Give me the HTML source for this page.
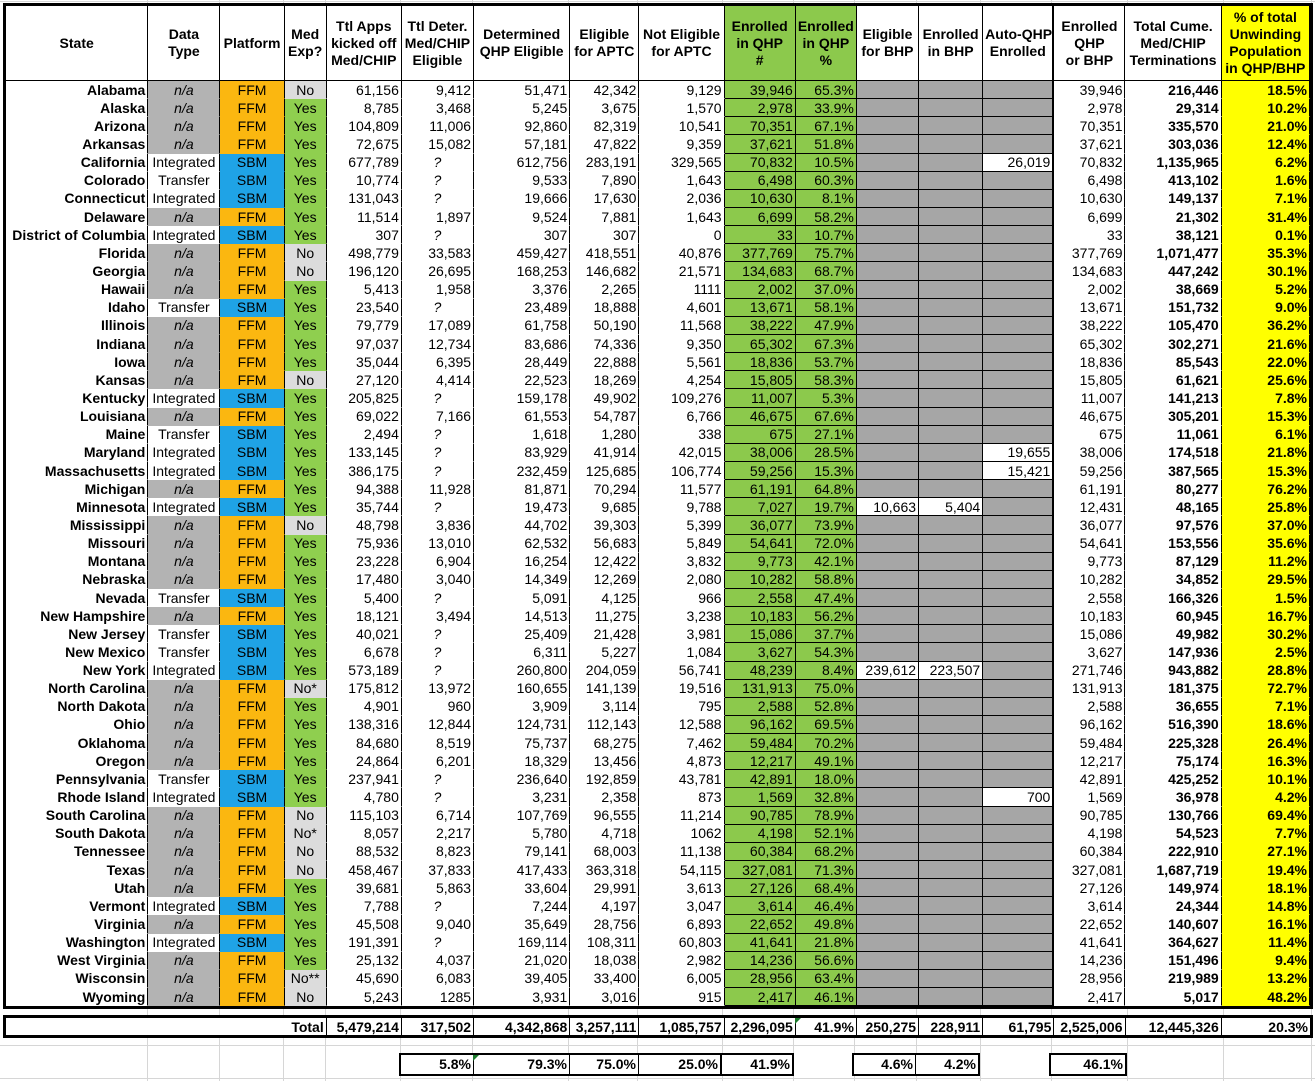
<!DOCTYPE html>
<html><head><meta charset="utf-8"><style>
body{margin:0;width:1315px;height:1081px;background:#fff;position:relative;overflow:hidden;font-family:"Liberation Sans",Arial,sans-serif;font-size:14px;color:#000}
.vl{position:absolute;top:0;height:1081px;width:1px;background:#d6d6d6}
.hl{position:absolute;left:0;width:1315px;height:1px;background:#d6d6d6}
table{border-spacing:0;table-layout:fixed;position:absolute}
#m{left:3px;top:3px;width:1310px;border:3px solid #000;background:#fff}
#m td,#m th{padding:0 2px;border-right:1px solid #000;border-bottom:1px solid transparent;white-space:nowrap;overflow:hidden;text-align:right;line-height:16px}
#m th{font-weight:bold;text-align:center;line-height:17px;border-bottom:1px solid #000;height:74px}
#m tr.r{height:18.15px}
#m td.s{font-weight:bold}
#m td.na{background:#b3b3b3;font-style:italic;text-align:center}
#m td.ty{text-align:center}
#m td.f{background:#fbb710;text-align:center}
#m td.p{background:#1fa3e6;text-align:center}
#m td.y{background:#8fcf4f;text-align:center}
#m td.n{background:#dcdcdc;text-align:center}
#m td.q{text-align:center;font-style:italic}
#m td.g{background:#8cc94c;border-bottom:1px solid #000}
#m td.x{background:#a6a6a6;border-bottom:1px solid #000}
#m td.w{background:#fff;border-bottom:1px solid #000}
#m td.b{font-weight:bold}
#m td.yl{background:#ffff00;font-weight:bold}
#m .k{border-right:2px solid #000}
#m th.gh{background:#8cc94c}
#m th.yh{background:#ffff00}
#t{left:3px;top:1015px;width:1310px;border-top:3px solid #000;border-bottom:3px solid #000;border-left:3px solid #000;border-right:3px solid #000;background:#fff}
#t td{padding:0 2px;height:17px;line-height:16px;font-weight:bold;text-align:right;border-right:1px solid #000;white-space:nowrap}
.bx{position:absolute;top:1053px;height:19px;border:2px solid #000;background:#fff;display:flex;font-weight:bold}
.bx div{text-align:right;padding-right:2px;line-height:19px;box-sizing:border-box;border-right:1px solid #000}
.bx div:last-child{border-right:none}
.tri{position:absolute;width:0;height:0;border-top:6px solid #1c7a2c;border-right:6px solid transparent}
</style></head><body>
<div class="vl" style="left:147px"></div><div class="vl" style="left:219px"></div><div class="vl" style="left:283px"></div><div class="vl" style="left:325px"></div><div class="vl" style="left:400px"></div><div class="vl" style="left:472px"></div><div class="vl" style="left:568px"></div><div class="vl" style="left:637px"></div><div class="vl" style="left:722px"></div><div class="vl" style="left:793px"></div><div class="vl" style="left:854px"></div><div class="vl" style="left:916px"></div><div class="vl" style="left:980px"></div><div class="vl" style="left:1051px"></div><div class="vl" style="left:1127px"></div><div class="vl" style="left:1223px"></div><div class="vl" style="left:1311px"></div>
<div class="hl" style="top:1045px"></div><div class="hl" style="top:1078px"></div><div class="hl" style="top:1px"></div>
<table id="m"><colgroup><col style="width:142px"><col style="width:72px"><col style="width:64px"><col style="width:42px"><col style="width:75px"><col style="width:72px"><col style="width:96px"><col style="width:69px"><col style="width:85px"><col style="width:71px"><col style="width:61px"><col style="width:62px"><col style="width:64px"><col style="width:71px"><col style="width:71px"><col style="width:96px"><col style="width:88px"></colgroup>
<tr><th>State</th><th>Data<br>Type</th><th>Platform</th><th>Med<br>Exp?</th><th>Ttl Apps<br>kicked off<br>Med/CHIP</th><th>Ttl Deter.<br>Med/CHIP<br>Eligible</th><th>Determined<br>QHP Eligible</th><th>Eligible<br>for APTC</th><th>Not Eligible<br>for APTC</th><th class="gh">Enrolled<br>in QHP<br>#</th><th class="gh">Enrolled<br>in QHP<br>%</th><th>Eligible<br>for BHP</th><th>Enrolled<br>in BHP</th><th class="k">Auto-QHP<br>Enrolled</th><th>Enrolled<br>QHP<br>or BHP</th><th>Total Cume.<br>Med/CHIP<br>Terminations</th><th class="yh">% of total<br>Unwinding<br>Population<br>in QHP/BHP</th></tr>
<tr class="r"><td class="s">Alabama</td><td class="na">n/a</td><td class="f">FFM</td><td class="n">No</td><td>61,156</td><td>9,412</td><td>51,471</td><td>42,342</td><td>9,129</td><td class="g">39,946</td><td class="g">65.3%</td><td class="x"></td><td class="x"></td><td class="x k"></td><td>39,946</td><td class="b">216,446</td><td class="yl">18.5%</td></tr>
<tr class="r"><td class="s">Alaska</td><td class="na">n/a</td><td class="f">FFM</td><td class="y">Yes</td><td>8,785</td><td>3,468</td><td>5,245</td><td>3,675</td><td>1,570</td><td class="g">2,978</td><td class="g">33.9%</td><td class="x"></td><td class="x"></td><td class="x k"></td><td>2,978</td><td class="b">29,314</td><td class="yl">10.2%</td></tr>
<tr class="r"><td class="s">Arizona</td><td class="na">n/a</td><td class="f">FFM</td><td class="y">Yes</td><td>104,809</td><td>11,006</td><td>92,860</td><td>82,319</td><td>10,541</td><td class="g">70,351</td><td class="g">67.1%</td><td class="x"></td><td class="x"></td><td class="x k"></td><td>70,351</td><td class="b">335,570</td><td class="yl">21.0%</td></tr>
<tr class="r"><td class="s">Arkansas</td><td class="na">n/a</td><td class="f">FFM</td><td class="y">Yes</td><td>72,675</td><td>15,082</td><td>57,181</td><td>47,822</td><td>9,359</td><td class="g">37,621</td><td class="g">51.8%</td><td class="x"></td><td class="x"></td><td class="x k"></td><td>37,621</td><td class="b">303,036</td><td class="yl">12.4%</td></tr>
<tr class="r"><td class="s">California</td><td class="ty">Integrated</td><td class="p">SBM</td><td class="y">Yes</td><td>677,789</td><td class="q">?</td><td>612,756</td><td>283,191</td><td>329,565</td><td class="g">70,832</td><td class="g">10.5%</td><td class="x"></td><td class="x"></td><td class="w k">26,019</td><td>70,832</td><td class="b">1,135,965</td><td class="yl">6.2%</td></tr>
<tr class="r"><td class="s">Colorado</td><td class="ty">Transfer</td><td class="p">SBM</td><td class="y">Yes</td><td>10,774</td><td class="q">?</td><td>9,533</td><td>7,890</td><td>1,643</td><td class="g">6,498</td><td class="g">60.3%</td><td class="x"></td><td class="x"></td><td class="x k"></td><td>6,498</td><td class="b">413,102</td><td class="yl">1.6%</td></tr>
<tr class="r"><td class="s">Connecticut</td><td class="ty">Integrated</td><td class="p">SBM</td><td class="y">Yes</td><td>131,043</td><td class="q">?</td><td>19,666</td><td>17,630</td><td>2,036</td><td class="g">10,630</td><td class="g">8.1%</td><td class="x"></td><td class="x"></td><td class="x k"></td><td>10,630</td><td class="b">149,137</td><td class="yl">7.1%</td></tr>
<tr class="r"><td class="s">Delaware</td><td class="na">n/a</td><td class="f">FFM</td><td class="y">Yes</td><td>11,514</td><td>1,897</td><td>9,524</td><td>7,881</td><td>1,643</td><td class="g">6,699</td><td class="g">58.2%</td><td class="x"></td><td class="x"></td><td class="x k"></td><td>6,699</td><td class="b">21,302</td><td class="yl">31.4%</td></tr>
<tr class="r"><td class="s">District of Columbia</td><td class="ty">Integrated</td><td class="p">SBM</td><td class="y">Yes</td><td>307</td><td class="q">?</td><td>307</td><td>307</td><td>0</td><td class="g">33</td><td class="g">10.7%</td><td class="x"></td><td class="x"></td><td class="x k"></td><td>33</td><td class="b">38,121</td><td class="yl">0.1%</td></tr>
<tr class="r"><td class="s">Florida</td><td class="na">n/a</td><td class="f">FFM</td><td class="n">No</td><td>498,779</td><td>33,583</td><td>459,427</td><td>418,551</td><td>40,876</td><td class="g">377,769</td><td class="g">75.7%</td><td class="x"></td><td class="x"></td><td class="x k"></td><td>377,769</td><td class="b">1,071,477</td><td class="yl">35.3%</td></tr>
<tr class="r"><td class="s">Georgia</td><td class="na">n/a</td><td class="f">FFM</td><td class="n">No</td><td>196,120</td><td>26,695</td><td>168,253</td><td>146,682</td><td>21,571</td><td class="g">134,683</td><td class="g">68.7%</td><td class="x"></td><td class="x"></td><td class="x k"></td><td>134,683</td><td class="b">447,242</td><td class="yl">30.1%</td></tr>
<tr class="r"><td class="s">Hawaii</td><td class="na">n/a</td><td class="f">FFM</td><td class="y">Yes</td><td>5,413</td><td>1,958</td><td>3,376</td><td>2,265</td><td>1111</td><td class="g">2,002</td><td class="g">37.0%</td><td class="x"></td><td class="x"></td><td class="x k"></td><td>2,002</td><td class="b">38,669</td><td class="yl">5.2%</td></tr>
<tr class="r"><td class="s">Idaho</td><td class="ty">Transfer</td><td class="p">SBM</td><td class="y">Yes</td><td>23,540</td><td class="q">?</td><td>23,489</td><td>18,888</td><td>4,601</td><td class="g">13,671</td><td class="g">58.1%</td><td class="x"></td><td class="x"></td><td class="x k"></td><td>13,671</td><td class="b">151,732</td><td class="yl">9.0%</td></tr>
<tr class="r"><td class="s">Illinois</td><td class="na">n/a</td><td class="f">FFM</td><td class="y">Yes</td><td>79,779</td><td>17,089</td><td>61,758</td><td>50,190</td><td>11,568</td><td class="g">38,222</td><td class="g">47.9%</td><td class="x"></td><td class="x"></td><td class="x k"></td><td>38,222</td><td class="b">105,470</td><td class="yl">36.2%</td></tr>
<tr class="r"><td class="s">Indiana</td><td class="na">n/a</td><td class="f">FFM</td><td class="y">Yes</td><td>97,037</td><td>12,734</td><td>83,686</td><td>74,336</td><td>9,350</td><td class="g">65,302</td><td class="g">67.3%</td><td class="x"></td><td class="x"></td><td class="x k"></td><td>65,302</td><td class="b">302,271</td><td class="yl">21.6%</td></tr>
<tr class="r"><td class="s">Iowa</td><td class="na">n/a</td><td class="f">FFM</td><td class="y">Yes</td><td>35,044</td><td>6,395</td><td>28,449</td><td>22,888</td><td>5,561</td><td class="g">18,836</td><td class="g">53.7%</td><td class="x"></td><td class="x"></td><td class="x k"></td><td>18,836</td><td class="b">85,543</td><td class="yl">22.0%</td></tr>
<tr class="r"><td class="s">Kansas</td><td class="na">n/a</td><td class="f">FFM</td><td class="n">No</td><td>27,120</td><td>4,414</td><td>22,523</td><td>18,269</td><td>4,254</td><td class="g">15,805</td><td class="g">58.3%</td><td class="x"></td><td class="x"></td><td class="x k"></td><td>15,805</td><td class="b">61,621</td><td class="yl">25.6%</td></tr>
<tr class="r"><td class="s">Kentucky</td><td class="ty">Integrated</td><td class="p">SBM</td><td class="y">Yes</td><td>205,825</td><td class="q">?</td><td>159,178</td><td>49,902</td><td>109,276</td><td class="g">11,007</td><td class="g">5.3%</td><td class="x"></td><td class="x"></td><td class="x k"></td><td>11,007</td><td class="b">141,213</td><td class="yl">7.8%</td></tr>
<tr class="r"><td class="s">Louisiana</td><td class="na">n/a</td><td class="f">FFM</td><td class="y">Yes</td><td>69,022</td><td>7,166</td><td>61,553</td><td>54,787</td><td>6,766</td><td class="g">46,675</td><td class="g">67.6%</td><td class="x"></td><td class="x"></td><td class="x k"></td><td>46,675</td><td class="b">305,201</td><td class="yl">15.3%</td></tr>
<tr class="r"><td class="s">Maine</td><td class="ty">Transfer</td><td class="p">SBM</td><td class="y">Yes</td><td>2,494</td><td class="q">?</td><td>1,618</td><td>1,280</td><td>338</td><td class="g">675</td><td class="g">27.1%</td><td class="x"></td><td class="x"></td><td class="x k"></td><td>675</td><td class="b">11,061</td><td class="yl">6.1%</td></tr>
<tr class="r"><td class="s">Maryland</td><td class="ty">Integrated</td><td class="p">SBM</td><td class="y">Yes</td><td>133,145</td><td class="q">?</td><td>83,929</td><td>41,914</td><td>42,015</td><td class="g">38,006</td><td class="g">28.5%</td><td class="x"></td><td class="x"></td><td class="w k">19,655</td><td>38,006</td><td class="b">174,518</td><td class="yl">21.8%</td></tr>
<tr class="r"><td class="s">Massachusetts</td><td class="ty">Integrated</td><td class="p">SBM</td><td class="y">Yes</td><td>386,175</td><td class="q">?</td><td>232,459</td><td>125,685</td><td>106,774</td><td class="g">59,256</td><td class="g">15.3%</td><td class="x"></td><td class="x"></td><td class="w k">15,421</td><td>59,256</td><td class="b">387,565</td><td class="yl">15.3%</td></tr>
<tr class="r"><td class="s">Michigan</td><td class="na">n/a</td><td class="f">FFM</td><td class="y">Yes</td><td>94,388</td><td>11,928</td><td>81,871</td><td>70,294</td><td>11,577</td><td class="g">61,191</td><td class="g">64.8%</td><td class="x"></td><td class="x"></td><td class="x k"></td><td>61,191</td><td class="b">80,277</td><td class="yl">76.2%</td></tr>
<tr class="r"><td class="s">Minnesota</td><td class="ty">Integrated</td><td class="p">SBM</td><td class="y">Yes</td><td>35,744</td><td class="q">?</td><td>19,473</td><td>9,685</td><td>9,788</td><td class="g">7,027</td><td class="g">19.7%</td><td class="w">10,663</td><td class="w">5,404</td><td class="x k"></td><td>12,431</td><td class="b">48,165</td><td class="yl">25.8%</td></tr>
<tr class="r"><td class="s">Mississippi</td><td class="na">n/a</td><td class="f">FFM</td><td class="n">No</td><td>48,798</td><td>3,836</td><td>44,702</td><td>39,303</td><td>5,399</td><td class="g">36,077</td><td class="g">73.9%</td><td class="x"></td><td class="x"></td><td class="x k"></td><td>36,077</td><td class="b">97,576</td><td class="yl">37.0%</td></tr>
<tr class="r"><td class="s">Missouri</td><td class="na">n/a</td><td class="f">FFM</td><td class="y">Yes</td><td>75,936</td><td>13,010</td><td>62,532</td><td>56,683</td><td>5,849</td><td class="g">54,641</td><td class="g">72.0%</td><td class="x"></td><td class="x"></td><td class="x k"></td><td>54,641</td><td class="b">153,556</td><td class="yl">35.6%</td></tr>
<tr class="r"><td class="s">Montana</td><td class="na">n/a</td><td class="f">FFM</td><td class="y">Yes</td><td>23,228</td><td>6,904</td><td>16,254</td><td>12,422</td><td>3,832</td><td class="g">9,773</td><td class="g">42.1%</td><td class="x"></td><td class="x"></td><td class="x k"></td><td>9,773</td><td class="b">87,129</td><td class="yl">11.2%</td></tr>
<tr class="r"><td class="s">Nebraska</td><td class="na">n/a</td><td class="f">FFM</td><td class="y">Yes</td><td>17,480</td><td>3,040</td><td>14,349</td><td>12,269</td><td>2,080</td><td class="g">10,282</td><td class="g">58.8%</td><td class="x"></td><td class="x"></td><td class="x k"></td><td>10,282</td><td class="b">34,852</td><td class="yl">29.5%</td></tr>
<tr class="r"><td class="s">Nevada</td><td class="ty">Transfer</td><td class="p">SBM</td><td class="y">Yes</td><td>5,400</td><td class="q">?</td><td>5,091</td><td>4,125</td><td>966</td><td class="g">2,558</td><td class="g">47.4%</td><td class="x"></td><td class="x"></td><td class="x k"></td><td>2,558</td><td class="b">166,326</td><td class="yl">1.5%</td></tr>
<tr class="r"><td class="s">New Hampshire</td><td class="na">n/a</td><td class="f">FFM</td><td class="y">Yes</td><td>18,121</td><td>3,494</td><td>14,513</td><td>11,275</td><td>3,238</td><td class="g">10,183</td><td class="g">56.2%</td><td class="x"></td><td class="x"></td><td class="x k"></td><td>10,183</td><td class="b">60,945</td><td class="yl">16.7%</td></tr>
<tr class="r"><td class="s">New Jersey</td><td class="ty">Transfer</td><td class="p">SBM</td><td class="y">Yes</td><td>40,021</td><td class="q">?</td><td>25,409</td><td>21,428</td><td>3,981</td><td class="g">15,086</td><td class="g">37.7%</td><td class="x"></td><td class="x"></td><td class="x k"></td><td>15,086</td><td class="b">49,982</td><td class="yl">30.2%</td></tr>
<tr class="r"><td class="s">New Mexico</td><td class="ty">Transfer</td><td class="p">SBM</td><td class="y">Yes</td><td>6,678</td><td class="q">?</td><td>6,311</td><td>5,227</td><td>1,084</td><td class="g">3,627</td><td class="g">54.3%</td><td class="x"></td><td class="x"></td><td class="x k"></td><td>3,627</td><td class="b">147,936</td><td class="yl">2.5%</td></tr>
<tr class="r"><td class="s">New York</td><td class="ty">Integrated</td><td class="p">SBM</td><td class="y">Yes</td><td>573,189</td><td class="q">?</td><td>260,800</td><td>204,059</td><td>56,741</td><td class="g">48,239</td><td class="g">8.4%</td><td class="w">239,612</td><td class="w">223,507</td><td class="x k"></td><td>271,746</td><td class="b">943,882</td><td class="yl">28.8%</td></tr>
<tr class="r"><td class="s">North Carolina</td><td class="na">n/a</td><td class="f">FFM</td><td class="n">No*</td><td>175,812</td><td>13,972</td><td>160,655</td><td>141,139</td><td>19,516</td><td class="g">131,913</td><td class="g">75.0%</td><td class="x"></td><td class="x"></td><td class="x k"></td><td>131,913</td><td class="b">181,375</td><td class="yl">72.7%</td></tr>
<tr class="r"><td class="s">North Dakota</td><td class="na">n/a</td><td class="f">FFM</td><td class="y">Yes</td><td>4,901</td><td>960</td><td>3,909</td><td>3,114</td><td>795</td><td class="g">2,588</td><td class="g">52.8%</td><td class="x"></td><td class="x"></td><td class="x k"></td><td>2,588</td><td class="b">36,655</td><td class="yl">7.1%</td></tr>
<tr class="r"><td class="s">Ohio</td><td class="na">n/a</td><td class="f">FFM</td><td class="y">Yes</td><td>138,316</td><td>12,844</td><td>124,731</td><td>112,143</td><td>12,588</td><td class="g">96,162</td><td class="g">69.5%</td><td class="x"></td><td class="x"></td><td class="x k"></td><td>96,162</td><td class="b">516,390</td><td class="yl">18.6%</td></tr>
<tr class="r"><td class="s">Oklahoma</td><td class="na">n/a</td><td class="f">FFM</td><td class="y">Yes</td><td>84,680</td><td>8,519</td><td>75,737</td><td>68,275</td><td>7,462</td><td class="g">59,484</td><td class="g">70.2%</td><td class="x"></td><td class="x"></td><td class="x k"></td><td>59,484</td><td class="b">225,328</td><td class="yl">26.4%</td></tr>
<tr class="r"><td class="s">Oregon</td><td class="na">n/a</td><td class="f">FFM</td><td class="y">Yes</td><td>24,864</td><td>6,201</td><td>18,329</td><td>13,456</td><td>4,873</td><td class="g">12,217</td><td class="g">49.1%</td><td class="x"></td><td class="x"></td><td class="x k"></td><td>12,217</td><td class="b">75,174</td><td class="yl">16.3%</td></tr>
<tr class="r"><td class="s">Pennsylvania</td><td class="ty">Transfer</td><td class="p">SBM</td><td class="y">Yes</td><td>237,941</td><td class="q">?</td><td>236,640</td><td>192,859</td><td>43,781</td><td class="g">42,891</td><td class="g">18.0%</td><td class="x"></td><td class="x"></td><td class="x k"></td><td>42,891</td><td class="b">425,252</td><td class="yl">10.1%</td></tr>
<tr class="r"><td class="s">Rhode Island</td><td class="ty">Integrated</td><td class="p">SBM</td><td class="y">Yes</td><td>4,780</td><td class="q">?</td><td>3,231</td><td>2,358</td><td>873</td><td class="g">1,569</td><td class="g">32.8%</td><td class="x"></td><td class="x"></td><td class="w k">700</td><td>1,569</td><td class="b">36,978</td><td class="yl">4.2%</td></tr>
<tr class="r"><td class="s">South Carolina</td><td class="na">n/a</td><td class="f">FFM</td><td class="n">No</td><td>115,103</td><td>6,714</td><td>107,769</td><td>96,555</td><td>11,214</td><td class="g">90,785</td><td class="g">78.9%</td><td class="x"></td><td class="x"></td><td class="x k"></td><td>90,785</td><td class="b">130,766</td><td class="yl">69.4%</td></tr>
<tr class="r"><td class="s">South Dakota</td><td class="na">n/a</td><td class="f">FFM</td><td class="n">No*</td><td>8,057</td><td>2,217</td><td>5,780</td><td>4,718</td><td>1062</td><td class="g">4,198</td><td class="g">52.1%</td><td class="x"></td><td class="x"></td><td class="x k"></td><td>4,198</td><td class="b">54,523</td><td class="yl">7.7%</td></tr>
<tr class="r"><td class="s">Tennessee</td><td class="na">n/a</td><td class="f">FFM</td><td class="n">No</td><td>88,532</td><td>8,823</td><td>79,141</td><td>68,003</td><td>11,138</td><td class="g">60,384</td><td class="g">68.2%</td><td class="x"></td><td class="x"></td><td class="x k"></td><td>60,384</td><td class="b">222,910</td><td class="yl">27.1%</td></tr>
<tr class="r"><td class="s">Texas</td><td class="na">n/a</td><td class="f">FFM</td><td class="n">No</td><td>458,467</td><td>37,833</td><td>417,433</td><td>363,318</td><td>54,115</td><td class="g">327,081</td><td class="g">71.3%</td><td class="x"></td><td class="x"></td><td class="x k"></td><td>327,081</td><td class="b">1,687,719</td><td class="yl">19.4%</td></tr>
<tr class="r"><td class="s">Utah</td><td class="na">n/a</td><td class="f">FFM</td><td class="y">Yes</td><td>39,681</td><td>5,863</td><td>33,604</td><td>29,991</td><td>3,613</td><td class="g">27,126</td><td class="g">68.4%</td><td class="x"></td><td class="x"></td><td class="x k"></td><td>27,126</td><td class="b">149,974</td><td class="yl">18.1%</td></tr>
<tr class="r"><td class="s">Vermont</td><td class="ty">Integrated</td><td class="p">SBM</td><td class="y">Yes</td><td>7,788</td><td class="q">?</td><td>7,244</td><td>4,197</td><td>3,047</td><td class="g">3,614</td><td class="g">46.4%</td><td class="x"></td><td class="x"></td><td class="x k"></td><td>3,614</td><td class="b">24,344</td><td class="yl">14.8%</td></tr>
<tr class="r"><td class="s">Virginia</td><td class="na">n/a</td><td class="f">FFM</td><td class="y">Yes</td><td>45,508</td><td>9,040</td><td>35,649</td><td>28,756</td><td>6,893</td><td class="g">22,652</td><td class="g">49.8%</td><td class="x"></td><td class="x"></td><td class="x k"></td><td>22,652</td><td class="b">140,607</td><td class="yl">16.1%</td></tr>
<tr class="r"><td class="s">Washington</td><td class="ty">Integrated</td><td class="p">SBM</td><td class="y">Yes</td><td>191,391</td><td class="q">?</td><td>169,114</td><td>108,311</td><td>60,803</td><td class="g">41,641</td><td class="g">21.8%</td><td class="x"></td><td class="x"></td><td class="x k"></td><td>41,641</td><td class="b">364,627</td><td class="yl">11.4%</td></tr>
<tr class="r"><td class="s">West Virginia</td><td class="na">n/a</td><td class="f">FFM</td><td class="y">Yes</td><td>25,132</td><td>4,037</td><td>21,020</td><td>18,038</td><td>2,982</td><td class="g">14,236</td><td class="g">56.6%</td><td class="x"></td><td class="x"></td><td class="x k"></td><td>14,236</td><td class="b">151,496</td><td class="yl">9.4%</td></tr>
<tr class="r"><td class="s">Wisconsin</td><td class="na">n/a</td><td class="f">FFM</td><td class="n">No**</td><td>45,690</td><td>6,083</td><td>39,405</td><td>33,400</td><td>6,005</td><td class="g">28,956</td><td class="g">63.4%</td><td class="x"></td><td class="x"></td><td class="x k"></td><td>28,956</td><td class="b">219,989</td><td class="yl">13.2%</td></tr>
<tr class="r"><td class="s">Wyoming</td><td class="na">n/a</td><td class="f">FFM</td><td class="n">No</td><td>5,243</td><td>1285</td><td>3,931</td><td>3,016</td><td>915</td><td class="g">2,417</td><td class="g">46.1%</td><td class="x"></td><td class="x"></td><td class="x k"></td><td>2,417</td><td class="b">5,017</td><td class="yl">48.2%</td></tr>
</table>
<table id="t"><colgroup><col style="width:320px"><col style="width:75px"><col style="width:72px"><col style="width:96px"><col style="width:69px"><col style="width:85px"><col style="width:71px"><col style="width:61px"><col style="width:62px"><col style="width:64px"><col style="width:71px"><col style="width:71px"><col style="width:96px"><col style="width:88px"></colgroup>
<tr><td>Total</td><td>5,479,214</td><td>317,502</td><td>4,342,868</td><td>3,257,111</td><td>1,085,757</td><td>2,296,095</td><td>41.9%</td><td>250,275</td><td>228,911</td><td>61,795</td><td>2,525,006</td><td>12,445,326</td><td style="border-right:none">20.3%</td></tr>
</table>
<div class="tri" style="left:795px;top:1018px"></div>
<div class="bx" style="left:399px;width:319px"><div style="width:73px">5.8%</div><div style="width:96px">79.3%</div><div style="width:69px">75.0%</div><div style="width:81px">25.0%</div></div>
<div class="tri" style="left:473px;top:1055px"></div>
<div class="bx" style="left:720px;width:70px"><div style="width:70px">41.9%</div></div>
<div class="bx" style="left:852px;width:124px"><div style="width:62px">4.6%</div><div style="width:62px">4.2%</div></div>
<div class="bx" style="left:1049px;width:74px"><div style="width:74px">46.1%</div></div>
</body></html>
